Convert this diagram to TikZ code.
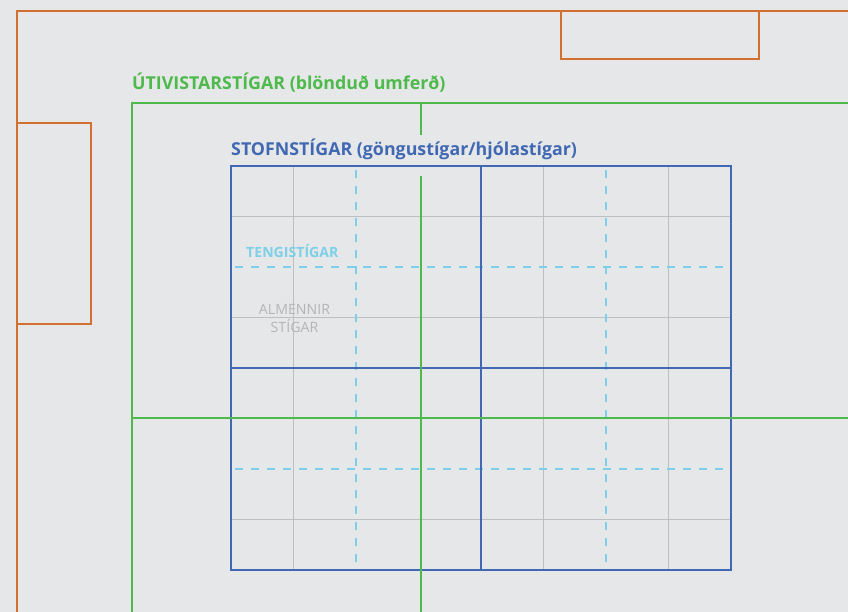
\documentclass[tikz,border=0pt]{standalone}
\usepackage{fontspec}
\setmainfont{Open Sans}
\definecolor{bg}{HTML}{E6E7E8}
\definecolor{orng}{HTML}{D2702F}
\definecolor{grn}{HTML}{4DBA4B}
\definecolor{blu}{HTML}{4169B3}
\definecolor{cyn}{HTML}{7DD0E8}
\definecolor{gridg}{HTML}{BDBEC0}
\definecolor{txtg}{HTML}{B4B5B7}
\begin{document}
\begin{tikzpicture}[x=1pt,y=-1pt,
  orangeline/.style={draw=orng,line width=2pt},
  greenline/.style={draw=grn,line width=2pt},
  blueline/.style={draw=blu,line width=2pt},
  gridline/.style={draw=gridg,line width=1pt},
  cyanline/.style={draw=cyn,line width=1.5pt,dash pattern=on 8pt off 8pt},
  lbl/.style={inner sep=0pt,anchor=base west,font=\bfseries}]
\fill[bg] (0,0) rectangle (848,612);
\useasboundingbox (0,0) rectangle (848,612);
% orange
\draw[orangeline] (848,11) -- (17,11) -- (17,612);
\draw[orangeline] (561,11) rectangle (759,59);
\draw[orangeline] (17,123) rectangle (91,324);
% gray grid
\foreach \x in {293.5,543.5,668.5} \draw[gridline] (\x,166) -- (\x,570);
\foreach \y in {216.5,317.5,519.5} \draw[gridline] (231,\y) -- (731,\y);
% cyan dashed
\foreach \x in {356,606} \draw[cyanline] (\x,170) -- (\x,566);
\foreach \y in {267,469} \draw[cyanline] (235,\y) -- (731,\y);
% blue
\draw[blueline] (231,166) rectangle (731,570);
\draw[blueline] (481,166) -- (481,570);
\draw[blueline] (231,368) -- (731,368);
% green
\draw[greenline] (848,103) -- (132,103) -- (132,612);
\draw[greenline] (132,418) -- (848,418);
\draw[greenline] (421,103) -- (421,135);
\draw[greenline] (421,176) -- (421,612);
% labels
\node[lbl,text=grn,font=\bfseries\fontsize{17.8}{20}\selectfont] (uti) at (132,90) {ÚTIVISTARSTÍGAR (blönduð umferð)};
\node[lbl,text=blu,font=\bfseries\fontsize{17.8}{20}\selectfont] (stofn) at (231,156) {STOFNSTÍGAR (göngustígar/hjólastígar)};
\node[lbl,text=cyn,font=\bfseries\fontsize{14.1}{16}\selectfont] (tengi) at (246,258) {TENGISTÍGAR};
\node[inner sep=0pt,text=txtg,align=center,font=\fontsize{14.2}{18}\selectfont,anchor=north] (alm) at (294.5,304) {ALMENNIR\\STÍGAR};
\end{tikzpicture}
\end{document}
